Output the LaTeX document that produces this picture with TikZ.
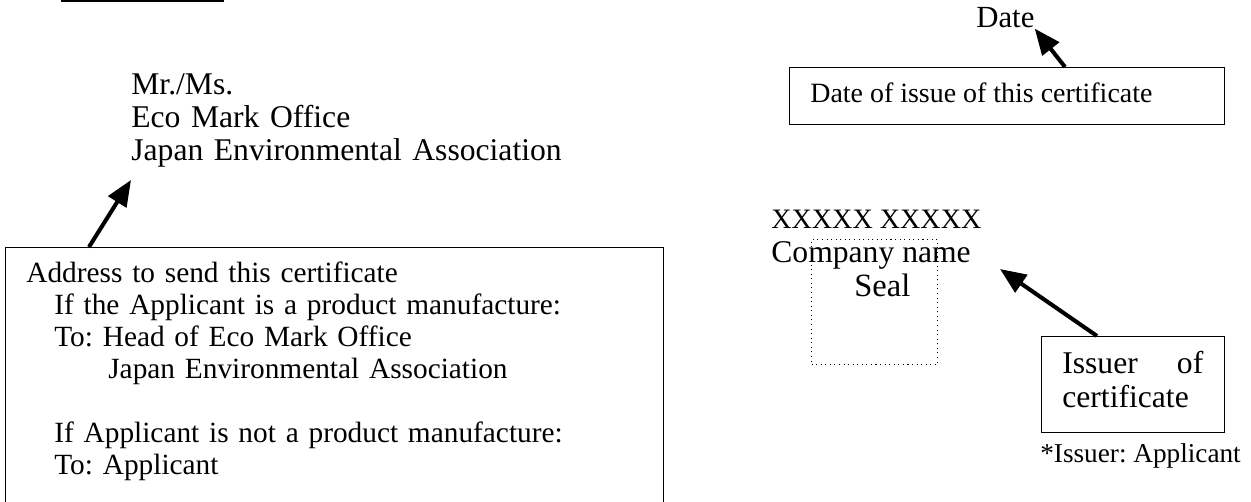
\documentclass[tikz,border=0pt]{standalone}
\usepackage{fontspec}
\setmainfont{Liberation Serif}
\frenchspacing
\usetikzlibrary{arrows.meta}

\tikzset{
  frame/.style={draw, line width=0.8pt, inner sep=0pt},
  txt/.style={anchor=base west, inner sep=0pt, align=left},
  pointer/.style={line width=2.3pt, -{Triangle[length=0.52cm, width=0.42cm]}},
}

\begin{document}
\begin{tikzpicture}[x=0.02cm, y=-0.02cm]
  \useasboundingbox (0,0) rectangle (1251,502);

  % short rule at the top
  \draw[line width=1.2pt] (61,1) -- (224,1);

  % addressee
  \node[txt, text width=10cm, font=\fontsize{18}{18.5}\selectfont] (addressee) at (131,95)
    {Mr./Ms.\\Eco Mark Office\\Japan Environmental Association};

  % box with the address
  \node[frame, anchor=north west, minimum width=13.16cm, minimum height=6cm] (addrbox) at (5,247) {};
  \node[txt, text width=12.5cm, font=\fontsize{16.7}{18.2}\selectfont] (addrtext) at (26,283)
    {Address to send this certificate\\
     \hspace*{0.56cm}If the Applicant is a product manufacture:\\
     \hspace*{0.56cm}To: Head of Eco Mark Office\\
     \hspace*{1.64cm}Japan Environmental Association\\[18.2pt]
     \hspace*{0.56cm}If Applicant is not a product manufacture:\\
     \hspace*{0.56cm}To: Applicant};
  \coordinate (addrtail) at (89,247);
  \coordinate (addrtip) at (131,180);
  \draw[pointer] (addrtail) -- (addrtip);

  % date
  \node[txt, font=\fontsize{17.5}{18}\selectfont] (date) at (976,28) {Date};
  \node[frame, anchor=north west, minimum width=8.7cm, minimum height=1.14cm] (datebox) at (789,67) {};
  \node[txt, font=\fontsize{15.9}{18}\selectfont] (datetext) at (810,103) {Date of issue of this certificate};
  \coordinate (datetail) at (1065,67);
  \draw[pointer] (datetail) -- (date.south east);

  % issuer and seal
  \node[draw, dotted, line width=0.6pt, inner sep=0pt, anchor=north west,
        minimum width=2.52cm, minimum height=2.5cm] (sealbox) at (811,239) {};
  \node[txt, font=\fontsize{16}{18}\selectfont] (names) at (771,229) {XXXXX XXXXX};
  \node[txt, font=\fontsize{18}{18}\selectfont] (company) at (771,263) {Company name};
  \node[txt, font=\fontsize{18.5}{18}\selectfont] (seal) at (854,297) {Seal};

  \node[frame, anchor=north west, minimum width=3.66cm, minimum height=1.92cm] (issuerbox) at (1041,336) {};
  \node[txt, text width=2.82cm, font=\fontsize{18}{18.8}\selectfont] (issuertext) at (1062,374)
    {Issuer\hfill of\\certificate};
  \coordinate (issuertail) at (1097,336);
  \coordinate (issuertip) at (1000,269);
  \draw[pointer] (issuertail) -- (issuertip);

  \node[txt, font=\fontsize{15.5}{18}\selectfont] (issuernote) at (1040,463) {*Issuer: Applicant};
\end{tikzpicture}
\end{document}
